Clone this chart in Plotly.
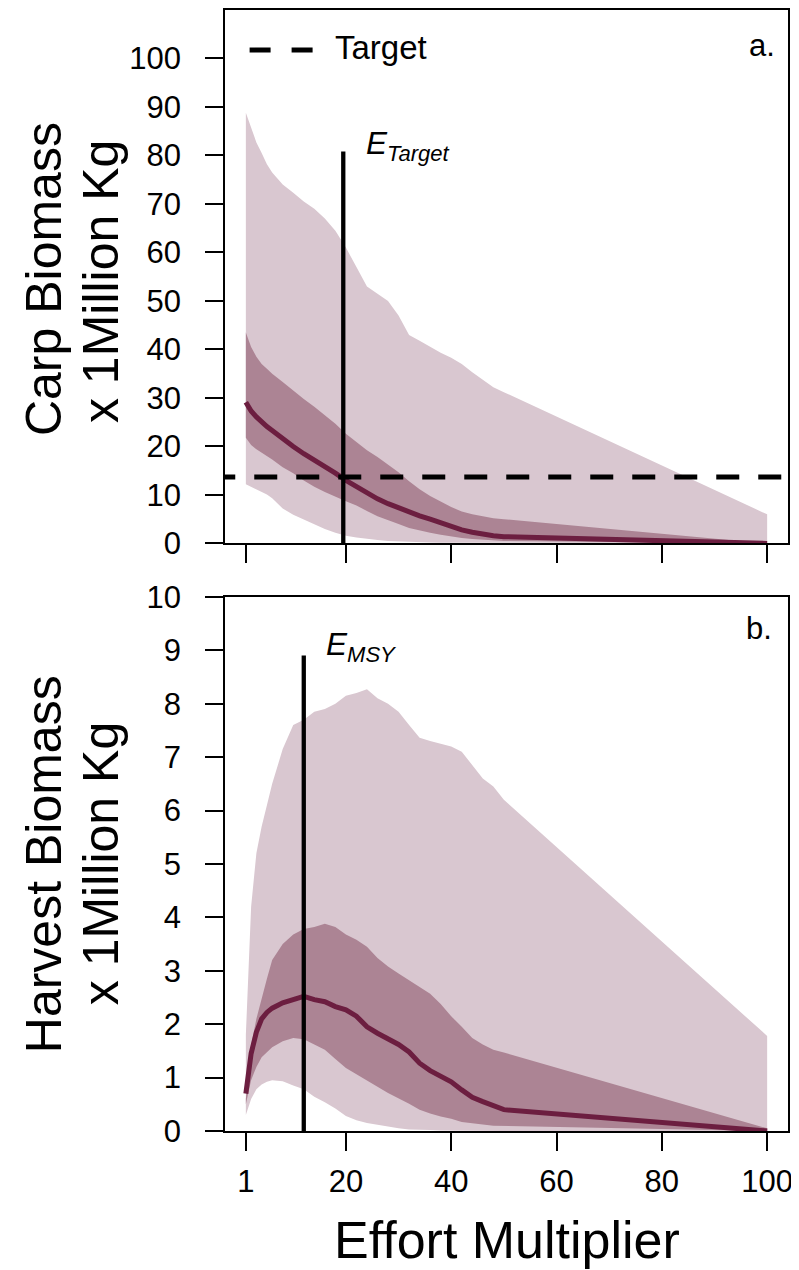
import plotly.graph_objects as go

# ---------------- data ----------------
effort = [1, 2, 3, 4, 5, 6, 8, 10, 12, 14, 16, 18, 20, 22, 24, 26, 28, 30,
          32, 34, 36, 38, 40, 42, 44, 46, 48, 50, 100]

# Panel a: carp biomass (x 1 million kg)
carp_median = [29.1, 27.3, 26.1, 25.0, 24.1, 23.3, 21.5, 20.0, 18.5, 17.2, 15.9, 14.5,
               13.0, 11.7, 10.3, 9.2, 8.2, 7.3, 6.4, 5.7, 5.0, 4.2, 3.5, 2.8, 2.3,
               1.9, 1.6, 1.4, 0.0]
carp_inner_hi = [43.5, 40.5, 38.5, 37.0, 36.0, 35.0, 33.3, 31.5, 29.8, 28.2, 26.5, 24.7,
                 22.6, 20.8, 19.2, 17.8, 16.2, 14.7, 12.8, 11.2, 9.8, 8.6, 7.5, 6.6,
                 6.0, 5.6, 5.2, 5.0, 0.1]
carp_inner_lo = [21.8, 20.3, 19.4, 18.7, 18.0, 17.3, 15.7, 14.5, 13.0, 11.7, 10.6, 9.6,
                 8.7, 7.8, 6.7, 5.6, 4.8, 4.0, 3.2, 2.7, 2.2, 1.8, 1.4, 1.1, 0.9,
                 0.75, 0.6, 0.5, 0.0]
carp_outer_hi = [88.8, 85.5, 82.7, 80.5, 78.2, 76.5, 74.0, 72.3, 70.5, 69.0, 67.0, 64.5,
                 61.0, 57.0, 53.0, 51.5, 50.0, 47.0, 43.0, 41.8, 40.5, 39.3, 38.3, 37.0,
                 35.3, 33.7, 32.2, 31.2, 6.0]
carp_outer_lo = [12.2, 11.6, 11.1, 10.6, 10.1, 9.3, 7.2, 5.9, 4.9, 4.0, 3.0, 2.2,
                 1.6, 1.2, 0.9, 0.7, 0.5, 0.4, 0.3, 0.25, 0.2, 0.15, 0.1, 0.08, 0.06,
                 0.05, 0.04, 0.03, 0.0]

# Panel b: harvest biomass (x 1 million kg)
harv_median = [0.7, 1.45, 1.85, 2.1, 2.22, 2.3, 2.4, 2.47, 2.52, 2.46, 2.42, 2.33,
               2.27, 2.15, 1.95, 1.83, 1.73, 1.62, 1.48, 1.27, 1.13, 1.03, 0.92, 0.77,
               0.63, 0.55, 0.48, 0.4, 0.0]
harv_inner_hi = [0.6, 1.6, 2.1, 2.5, 2.85, 3.2, 3.5, 3.68, 3.78, 3.82, 3.88, 3.82,
                 3.68, 3.58, 3.45, 3.24, 3.08, 2.95, 2.82, 2.7, 2.57, 2.38, 2.15, 1.95,
                 1.74, 1.62, 1.52, 1.47, 0.05]
harv_inner_lo = [0.5, 0.95, 1.2, 1.38, 1.48, 1.57, 1.68, 1.74, 1.72, 1.62, 1.52, 1.35,
                 1.18, 1.07, 0.95, 0.83, 0.71, 0.61, 0.51, 0.4, 0.33, 0.27, 0.23, 0.17,
                 0.14, 0.12, 0.1, 0.09, 0.0]
harv_outer_hi = [1.8, 4.2, 5.2, 5.7, 6.1, 6.5, 7.15, 7.6, 7.7, 7.85, 7.9, 8.0,
                 8.15, 8.2, 8.27, 8.1, 8.0, 7.85, 7.6, 7.36, 7.3, 7.25, 7.2, 7.1,
                 6.85, 6.6, 6.45, 6.2, 1.78]
harv_outer_lo = [0.3, 0.6, 0.78, 0.87, 0.92, 0.95, 0.93, 0.85, 0.78, 0.64, 0.54, 0.42,
                 0.28, 0.2, 0.15, 0.11, 0.08, 0.05, 0.03, 0.02, 0.02, 0.01, 0.01, 0.01,
                 0.01, 0.0, 0.0, 0.0, 0.0]

target_biomass = 13.7
e_target = 19.5
e_target_top = 80.8
e_msy = 12
e_msy_top = 8.9

x_ticks = [1, 20, 40, 60, 80, 100]
carp_ticks = list(range(0, 101, 10))
harv_ticks = list(range(0, 11, 1))

# ---------------- style ----------------
LIGHT = "rgb(217,199,208)"
DARK = "rgb(172,132,148)"
LINE = "rgb(108,30,64)"
FONT = "Liberation Sans, Arial, sans-serif"

OFF = 8  # default page body margin
W, H = 799 - OFF, 1270 - OFF
L = 225 - OFF
T = 10 - OFF
R = W - (788 - OFF)
B = H - (1130.7 - OFF)
PW, PH = W - L - R, H - T - B


def px_x(px):
    return (px - OFF - L) / PW


def px_y(py):
    return (H - B - (py - OFF)) / PH


fig = go.Figure()


def band(x, hi, lo, color, xa, ya):
    fig.add_trace(go.Scatter(
        x=list(x) + list(x)[::-1], y=list(hi) + list(lo)[::-1],
        fill="toself", fillcolor=color, mode="lines", line=dict(width=0),
        hoverinfo="skip", showlegend=False, xaxis=xa, yaxis=ya))


# panel a
band(effort, carp_outer_hi, carp_outer_lo, LIGHT, "x", "y")
band(effort, carp_inner_hi, carp_inner_lo, DARK, "x", "y")
fig.add_trace(go.Scatter(x=effort, y=carp_median, mode="lines",
                         line=dict(color=LINE, width=5), showlegend=False,
                         xaxis="x", yaxis="y"))
fig.add_trace(go.Scatter(x=[e_target, e_target], y=[0, e_target_top], mode="lines",
                         line=dict(color="black", width=4.3), showlegend=False,
                         xaxis="x", yaxis="y"))
fig.add_trace(go.Scatter(x=[-5.38, 110], y=[target_biomass, target_biomass], mode="lines",
                         line=dict(color="black", width=5, dash="23px,19px"),
                         showlegend=False, xaxis="x", yaxis="y"))

# panel b
band(effort, harv_outer_hi, harv_outer_lo, LIGHT, "x2", "y2")
band(effort, harv_inner_hi, harv_inner_lo, DARK, "x2", "y2")
fig.add_trace(go.Scatter(x=effort, y=harv_median, mode="lines",
                         line=dict(color=LINE, width=5), showlegend=False,
                         xaxis="x2", yaxis="y2"))
fig.add_trace(go.Scatter(x=[e_msy, e_msy], y=[0, e_msy_top], mode="lines",
                         line=dict(color="black", width=4.3), showlegend=False,
                         xaxis="x2", yaxis="y2"))

axis_common = dict(showline=True, linecolor="black", linewidth=1.8, mirror=True,
                   ticks="outside", ticklen=18, tickwidth=1.8, tickcolor="black",
                   showgrid=False, zeroline=False, automargin=False,
                   tickfont=dict(family=FONT, size=31, color="black"))

top_dom = [px_y(543.3), 1.0]
bot_dom = [0.0, px_y(596.7)]

fig.update_layout(
    width=W, height=H,
    margin=dict(l=L, r=R, t=T, b=B, autoexpand=False),
    plot_bgcolor="white", paper_bgcolor="white",
    showlegend=False,
    xaxis=dict(axis_common, domain=[0, 1], range=[-2.96, 103.96], tickvals=x_ticks,
               showticklabels=False, anchor="y"),
    yaxis=dict(axis_common, domain=top_dom, range=[0, 110], tickvals=carp_ticks,
               ticklabelstandoff=18, anchor="x"),
    xaxis2=dict(axis_common, domain=[0, 1], range=[-2.96, 103.96], tickvals=x_ticks,
                ticklabelstandoff=4, anchor="y2"),
    yaxis2=dict(axis_common, domain=bot_dom, range=[0, 10], tickvals=harv_ticks,
                ticklabelstandoff=18, anchor="x2"),
)

ann = []
# legend (manual)
fig.add_shape(type="line", xref="paper", yref="paper",
              x0=px_x(249.6), x1=px_x(312.6), y0=px_y(50), y1=px_y(50),
              line=dict(color="black", width=5, dash="21px,21px"))
ann.append(dict(text="Target", x=px_x(333), y=px_y(47), xanchor="left", yanchor="middle",
                font=dict(family=FONT, size=33, color="black")))
ann.append(dict(text="a.", x=px_x(777), y=px_y(45), xanchor="right", yanchor="middle",
                font=dict(family=FONT, size=31, color="black")))
ann.append(dict(text="b.", x=px_x(774), y=px_y(628), xanchor="right", yanchor="middle",
                font=dict(family=FONT, size=31, color="black")))
ann.append(dict(text="<i>E<sub>Target</sub></i>", x=px_x(364), y=px_y(145),
                xanchor="left", yanchor="middle",
                font=dict(family=FONT, size=31.5, color="black")))
ann.append(dict(text="<i>E<sub>MSY</sub></i>", x=px_x(324), y=px_y(646),
                xanchor="left", yanchor="middle",
                font=dict(family=FONT, size=31.5, color="black")))
# axis titles
ann.append(dict(text="Effort Multiplier", x=px_x(506.5), y=px_y(1240),
                xanchor="center", yanchor="middle",
                font=dict(family=FONT, size=52, color="black")))
for txt, cx, cy in [("Carp Biomass", 44, 279), ("x 1Million Kg", 101, 282),
                    ("Harvest Biomass", 44, 864), ("x 1Million Kg", 101, 864)]:
    ann.append(dict(text=txt, x=px_x(cx), y=px_y(cy), xanchor="center", yanchor="middle",
                    textangle=-90, font=dict(family=FONT, size=50, color="black")))

for a in ann:
    a.update(xref="paper", yref="paper", showarrow=False)
fig.update_layout(annotations=ann)

fig.write_html("out.html")
